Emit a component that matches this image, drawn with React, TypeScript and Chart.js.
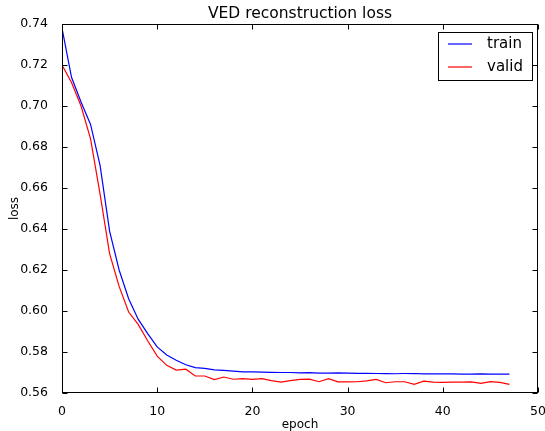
import React, { useEffect, useRef } from "react";
import { Chart, registerables } from "chart.js";

Chart.register(...registerables);

const epochs = [
  0, 1, 2, 3, 4, 5, 6, 7, 8, 9, 10, 11, 12, 13, 14, 15, 16, 17, 18, 19, 20, 21, 22, 23,
  24, 25, 26, 27, 28, 29, 30, 31, 32, 33, 34, 35, 36, 37, 38, 39, 40, 41, 42, 43, 44, 45, 46, 47,
];

const trainLoss = [
  0.738, 0.714, 0.702, 0.691, 0.671, 0.639, 0.62, 0.606, 0.596, 0.589, 0.5825, 0.5785,
  0.576, 0.5738, 0.5724, 0.572, 0.5713, 0.571, 0.5707, 0.5703, 0.5703, 0.5702, 0.5701, 0.57,
  0.57, 0.5698, 0.5699, 0.5697, 0.5697, 0.5698, 0.5697, 0.5696, 0.5696, 0.5695, 0.5695, 0.5694,
  0.5695, 0.5695, 0.5693, 0.5694, 0.5693, 0.5693, 0.5692, 0.5692, 0.5693, 0.5692, 0.5692, 0.5692,
];

const validLoss = [
  0.72, 0.7115, 0.7, 0.684, 0.657, 0.628, 0.612, 0.5995, 0.5935, 0.5855, 0.578, 0.5735,
  0.5712, 0.5716, 0.5683, 0.5683, 0.5665, 0.5678, 0.5667, 0.567, 0.5666, 0.567, 0.566, 0.5653,
  0.566, 0.5666, 0.5668, 0.5655, 0.567, 0.5654, 0.5654, 0.5655, 0.5659, 0.5666, 0.565, 0.5655,
  0.5655, 0.5642, 0.5658, 0.5653, 0.5652, 0.5653, 0.5653, 0.5654, 0.5647, 0.5655, 0.5652, 0.5642,
];

const xTicks = [0, 10, 20, 30, 40, 50];
const yTicks = [0.56, 0.58, 0.6, 0.62, 0.64, 0.66, 0.68, 0.7, 0.72, 0.74];

const titleText = "VED reconstruction loss";
const xLabel = "epoch";
const yLabel = "loss";
const seriesNames = ["train", "valid"];
const seriesColors = ["#0000ff", "#ff0000"];

const FONT = "'DejaVu Sans', sans-serif";

const decorPlugin = {
  id: "decor",
  afterDraw(chart: any) {
    const ctx = chart.ctx as CanvasRenderingContext2D;
    const a = chart.chartArea;
    const xs = chart.scales.x;
    const ys = chart.scales.y;
    ctx.save();
    ctx.strokeStyle = "#000";
    ctx.lineWidth = 1;
    const L = Math.round(a.left) + 0.5;
    const R = Math.round(a.right) - 0.5;
    const T = Math.round(a.top) + 0.5;
    const B = Math.round(a.bottom) - 0.5;
    ctx.strokeRect(L, T, R - L, B - T);
    const tl = 5;
    ctx.beginPath();
    xTicks.forEach((v) => {
      const px = Math.round(xs.getPixelForValue(v)) + 0.5;
      ctx.moveTo(px, B);
      ctx.lineTo(px, B - tl);
      ctx.moveTo(px, T);
      ctx.lineTo(px, T + tl);
    });
    yTicks.forEach((v) => {
      const py = Math.round(ys.getPixelForValue(v)) + 0.5;
      ctx.moveTo(L, py);
      ctx.lineTo(L + tl, py);
      ctx.moveTo(R, py);
      ctx.lineTo(R - tl, py);
    });
    ctx.stroke();

    ctx.fillStyle = "#000";
    ctx.font = `15.5px ${FONT}`;
    ctx.textAlign = "center";
    ctx.textBaseline = "alphabetic";
    const cx = (a.left + a.right) / 2;
    ctx.fillText(titleText, cx, 18);

    ctx.font = `12px ${FONT}`;
    ctx.fillText(xLabel, cx, 428);
    ctx.save();
    ctx.translate(18, (a.top + a.bottom) / 2);
    ctx.rotate(-Math.PI / 2);
    ctx.fillText(yLabel, 0, 0);
    ctx.restore();

    // legend
    ctx.fillStyle = "#fff";
    ctx.fillRect(438.5, 32.5, 94, 48);
    ctx.strokeStyle = "#000";
    ctx.lineWidth = 1;
    ctx.strokeRect(438.5, 32.5, 94, 48);
    const rows = [44, 67];
    for (let i = 0; i < seriesNames.length; i++) {
      ctx.strokeStyle = seriesColors[i];
      ctx.lineWidth = 1.2;
      ctx.beginPath();
      ctx.moveTo(448, rows[i]);
      ctx.lineTo(472, rows[i]);
      ctx.stroke();
      ctx.fillStyle = "#000";
      ctx.font = `15px ${FONT}`;
      ctx.textAlign = "left";
      ctx.textBaseline = "middle";
      ctx.fillText(seriesNames[i], 487, rows[i] + 0.5);
    }
    ctx.restore();
  },
};

export default function App() {
  const ref = useRef<HTMLCanvasElement | null>(null);

  useEffect(() => {
    document.body.style.margin = "0";
    const canvas = ref.current;
    if (!canvas) return;
    const chart = new Chart(canvas, {
      type: "line",
      data: {
        datasets: seriesNames.map((name, i) => ({
          label: name,
          data: epochs.map((e, j) => ({ x: e, y: (i === 0 ? trainLoss : validLoss)[j] })),
          borderColor: seriesColors[i],
          backgroundColor: seriesColors[i],
          borderWidth: 1.2,
          pointRadius: 0,
          tension: 0,
          fill: false,
        })),
      },
      options: {
        animation: false,
        responsive: false,
        devicePixelRatio: 1,
        layout: { padding: { top: 24, right: 7, left: 0, bottom: 0 } },
        plugins: {
          legend: { display: false },
          title: { display: false },
          tooltip: { enabled: false },
        },
        scales: {
          x: {
            type: "linear",
            min: 0,
            max: 50,
            grid: { display: false },
            border: { display: false },
            ticks: {
              stepSize: 10,
              padding: 3,
              color: "#000",
              font: { family: FONT, size: 12.5 },
              maxRotation: 0,
            },
            afterFit(scale: any) {
              scale.height = 38;
              scale.paddingLeft = 0;
              scale.paddingRight = 0;
            },
          },
          y: {
            type: "linear",
            min: 0.56,
            max: 0.74,
            grid: { display: false },
            border: { display: false },
            ticks: {
              stepSize: 0.02,
              padding: 6,
              color: "#000",
              font: { family: FONT, size: 12.5 },
              callback: (v: any) => Number(v).toFixed(2),
            },
            afterFit(scale: any) {
              scale.width = 62;
              scale.paddingTop = 0;
              scale.paddingBottom = 0;
            },
          },
        },
      },
      plugins: [decorPlugin],
    });
    return () => chart.destroy();
  }, []);

  return (
    <div style={{ width: 545, height: 431 }}>
      <canvas ref={ref} width={545} height={431} style={{ width: 545, height: 431, display: "block" }} />
    </div>
  );
}
